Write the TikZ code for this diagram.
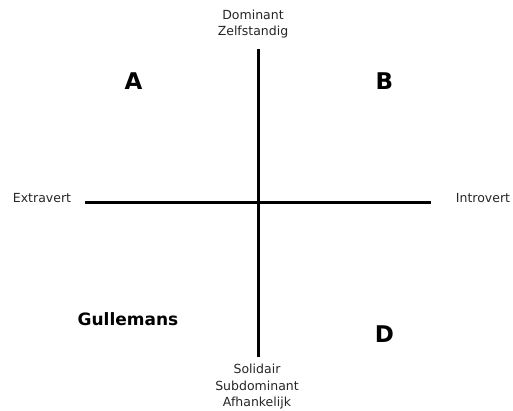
\documentclass[tikz,border=0pt]{standalone}
\usepackage{fontspec}
\setmainfont{DejaVu Sans}
\begin{document}
\begin{tikzpicture}[x=1pt,y=-1pt,
  axis/.style={line width=3pt,black},
  lbl/.style={font=\fontsize{12.5}{16.5}\selectfont,align=center,inner sep=0pt,text=black!85},
  quad/.style={font=\fontsize{23}{26}\selectfont\bfseries,inner sep=0pt},
  gname/.style={font=\fontsize{17}{20}\selectfont\bfseries,inner sep=0pt}]
\useasboundingbox[fill=white] (0,0) rectangle (513,411);
\coordinate (top) at (258,49);
\coordinate (bot) at (258,357);
\coordinate (lft) at (85,203);
\coordinate (rgt) at (431,203);
\draw[axis] (top) -- (bot);
\draw[axis] (lft) -- (rgt);
\node[lbl] (dom) at (253,24) {Dominant\\Zelfstandig};
\node[lbl] (sol) at (257,387) {Solidair\\Subdominant\\Afhankelijk};
\node[lbl] (ext) at (42,198) {Extravert};
\node[lbl] (int) at (483,198) {Introvert};
\node[quad] (A) at (133.5,81) {A};
\node[quad] (B) at (384.5,81) {B};
\node[quad] (D) at (384.5,334) {D};
\node[gname] (gul) at (128,319) {Gullemans};
\end{tikzpicture}
\end{document}
